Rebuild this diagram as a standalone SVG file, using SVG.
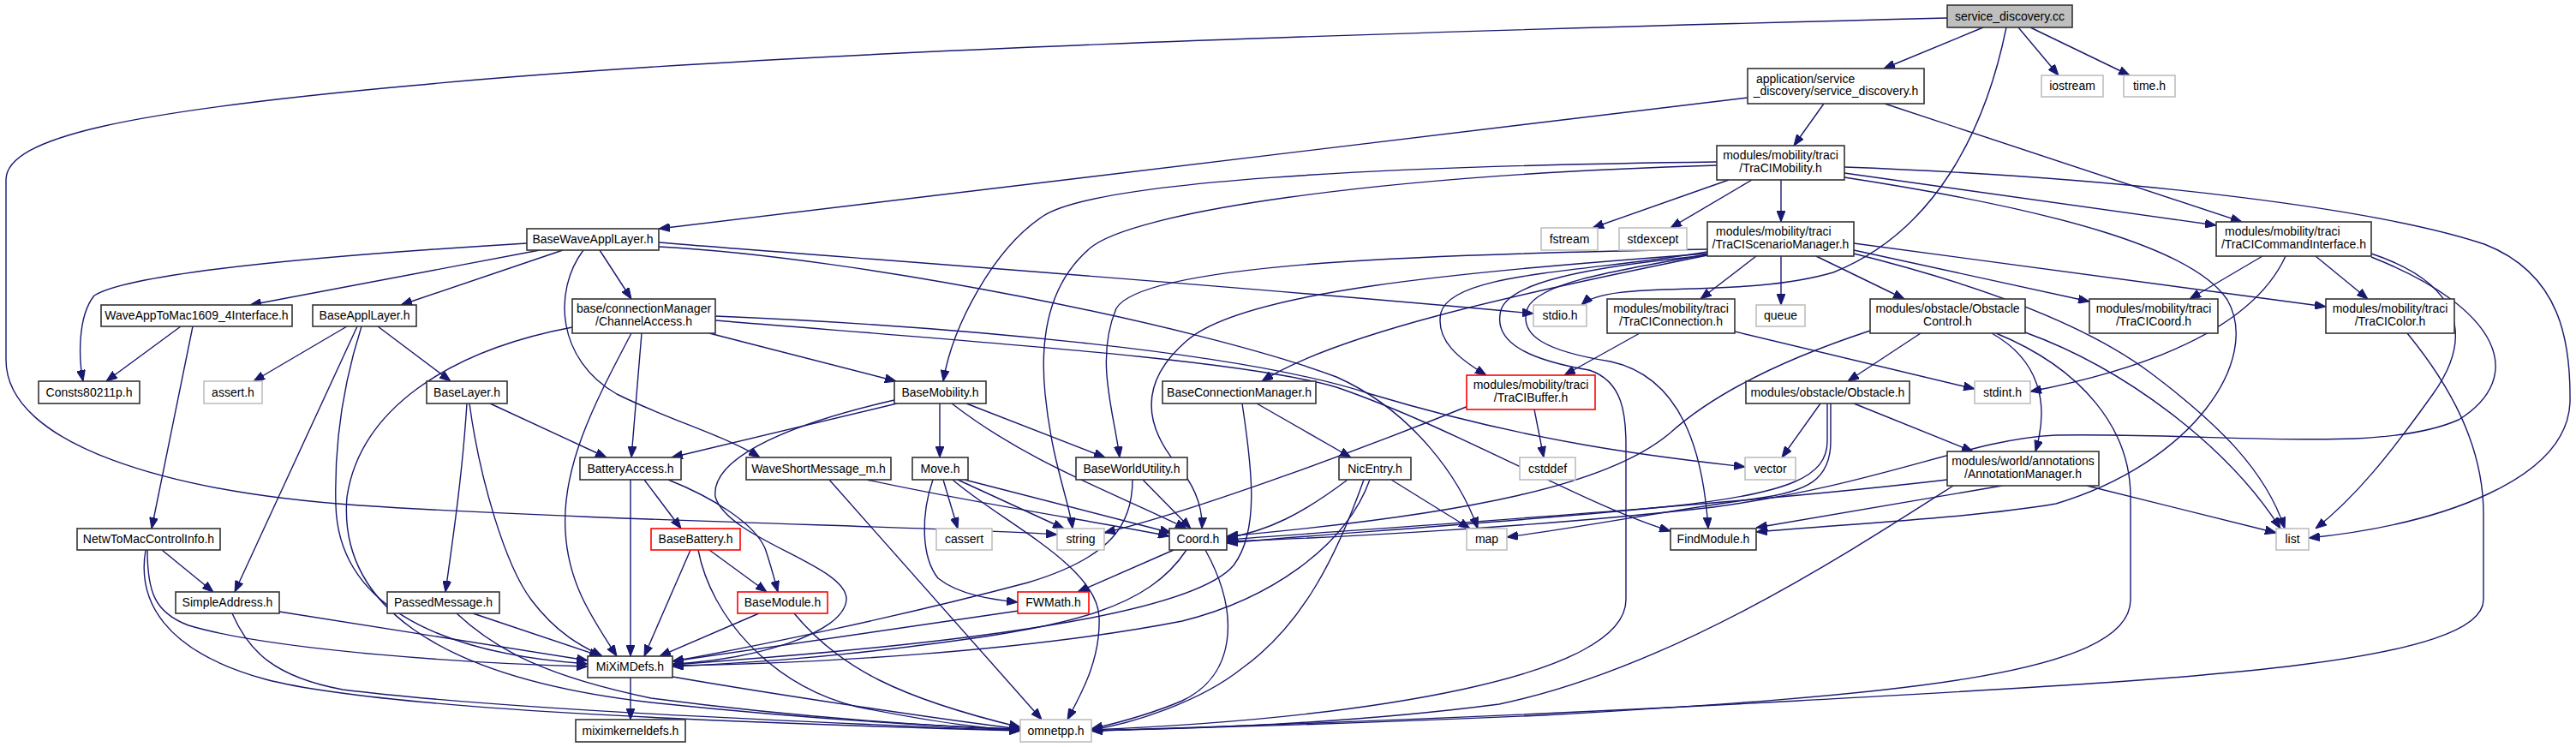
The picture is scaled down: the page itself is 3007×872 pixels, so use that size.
<svg xmlns="http://www.w3.org/2000/svg" width="3007" height="872" viewBox="0 0 3007 872">
<style>
#edges path{fill:none;stroke:#191970;stroke-width:1.4;marker-end:url(#a)}
.n rect{fill:#fff;stroke:#333;stroke-width:1.6}
.n.g rect{stroke:#bfbfbf}
.n.r rect{stroke:#ff0000}
.n.root rect{fill:#bfbfbf}
text{font-family:"Liberation Sans",Arial,Helvetica,sans-serif;font-size:14px;fill:#000}
.c{text-anchor:middle}
.l{text-anchor:start}
</style>
<defs>
<marker id="a" viewBox="0 0 13 10" refX="13" refY="5" markerWidth="13" markerHeight="10" orient="auto" markerUnits="userSpaceOnUse"><path d="M0,0 L13,5 L0,10 z" fill="#191970" stroke="#191970" stroke-width="1"/></marker>
</defs>
<rect width="3007" height="872" fill="#fff"/>
<g id="edges">
<path d="M2315,32 L2199,80"/>
<path d="M2356,32 L2403,88"/>
<path d="M2370,32 L2486,88"/>
<path d="M2342,32 C2318,150 2260,270 2140,318 C2030,350 1880,325 1846,356"/>
<path d="M2273,21 C1600,38 900,60 480,100 C150,130 7,160 7,210 L7,420 C7,520 200,575 420,590 C700,608 1100,615 1234,624"/>
<path d="M2040,114 L769,267"/>
<path d="M2129,121 L2094,170"/>
<path d="M2200,121 L2617,259"/>
<path d="M2018,210 L1859,266"/>
<path d="M2045,210 L1950,266"/>
<path d="M2079,210 L2079,259"/>
<path d="M2153,202 L2587,263"/>
<path d="M2004,189 C1600,194 1280,212 1218,252 C1160,290 1112,380 1101,445"/>
<path d="M2004,193 C1600,205 1320,248 1272,290 C1222,333 1214,400 1220,460 C1228,540 1248,585 1252,617"/>
<path d="M2153,195 C2500,208 2780,245 2900,285 C2990,320 3001,400 3000,470 C2996,560 2850,612 2695,628"/>
<path d="M2153,207 C2400,245 2560,290 2600,350 C2640,420 2560,540 2400,588 C2300,605 2150,612 2050,621"/>
<path d="M2050,299 L1985,349"/>
<path d="M2079,299 L2079,356"/>
<path d="M2120,299 L2223,349"/>
<path d="M2164,292 L2439,352"/>
<path d="M2164,284 L2715,358"/>
<path d="M2164,296 C2300,330 2430,375 2510,435 C2590,495 2645,550 2667,617"/>
<path d="M2364,388 C2480,430 2600,520 2662,617"/>
<path d="M1993,294 C1850,318 1695,318 1682,365 C1675,398 1705,420 1735,438"/>
<path d="M1993,298 C1760,345 1560,390 1473,445"/>
<path d="M1993,291 C1700,296 1335,305 1303,360 C1278,420 1300,480 1307,534"/>
<path d="M1993,296 C1700,318 1450,340 1385,398 C1325,450 1340,500 1372,540 C1398,570 1404,595 1403,617"/>
<path d="M1993,297 C1870,318 1795,332 1783,360 C1772,392 1805,410 1880,422 C1962,440 1988,525 1994,617"/>
<path d="M1993,298 C1850,312 1762,330 1752,362 C1742,400 1785,420 1855,432 C1895,445 1898,485 1898,520 L1898,700 C1898,790 1600,838 1274,852"/>
<path d="M1914,389 L1826,438"/>
<path d="M2025,387 L2305,454"/>
<path d="M1791,478 L1802,534"/>
<path d="M1714,474 C1600,520 1400,595 1289,622"/>
<path d="M2641,299 L2556,349"/>
<path d="M2703,299 L2764,349"/>
<path d="M2668,299 C2640,360 2560,420 2370,457"/>
<path d="M2768,296 C2870,330 2890,390 2840,460 C2790,530 2750,580 2703,617"/>
<path d="M2768,300 C2920,360 2950,440 2870,490 C2780,530 2600,505 2400,508 C2300,512 2200,565 2000,592 C1800,615 1550,628 1432,632"/>
<path d="M2242,389 L2157,445"/>
<path d="M2183,386 C2080,420 2000,460 1950,505 C1880,565 1720,600 1432,626"/>
<path d="M2325,389 C2380,420 2393,470 2376,527"/>
<path d="M2330,389 C2430,430 2487,500 2487,580 L2487,700 C2487,790 2200,812 1800,835 C1500,848 1350,851 1274,853"/>
<path d="M2125,471 L2080,534"/>
<path d="M2164,471 L2303,527"/>
<path d="M2137,471 L2137,515 C2137,560 2110,574 2050,582 C1940,597 1850,615 1759,627"/>
<path d="M2133,471 L2133,515 C2133,556 2090,576 1950,591 C1750,611 1520,625 1432,634"/>
<path d="M2337,567 L2050,616"/>
<path d="M2436,567 L2657,622"/>
<path d="M2273,560 C2000,592 1600,617 1432,630"/>
<path d="M2280,567 C2150,650 1950,780 1750,822 C1550,848 1350,851 1274,853"/>
<path d="M2810,389 C2860,450 2899,520 2899,600 L2899,700 C2899,780 2500,795 2100,818 C1700,840 1400,849 1274,853"/>
<path d="M615,284 C350,300 150,320 110,345 C90,370 92,420 97,445"/>
<path d="M630,292 L292,356"/>
<path d="M657,292 L468,356"/>
<path d="M700,292 L737,349"/>
<path d="M681,292 C645,340 650,420 720,460 C780,490 850,510 887,534"/>
<path d="M769,283 C950,298 1400,330 1790,366"/>
<path d="M769,288 C1000,300 1400,380 1560,440 C1650,480 1705,560 1725,617"/>
<path d="M211,381 L124,445"/>
<path d="M225,381 L177,617"/>
<path d="M405,381 L296,445"/>
<path d="M441,381 L526,445"/>
<path d="M417,381 L274,691"/>
<path d="M422,381 C400,450 390,520 392,590 C395,700 500,762 686,775"/>
<path d="M749,389 L737,534"/>
<path d="M828,389 L1046,445"/>
<path d="M737,389 C700,460 655,540 660,620 C663,680 690,720 720,766"/>
<path d="M668,382 C520,410 420,480 405,580 C395,700 500,790 760,820 C950,840 1100,848 1191,851"/>
<path d="M835,369 C1100,380 1450,410 1600,460 C1800,520 1950,535 2037,545"/>
<path d="M835,374 C1150,400 1450,420 1560,452 C1700,500 1850,590 1950,620"/>
<path d="M572,471 L708,534"/>
<path d="M545,471 C540,550 530,620 520,691"/>
<path d="M548,471 C560,560 590,660 620,700 C650,740 680,755 703,766"/>
<path d="M189,642 L249,691"/>
<path d="M172,642 C172,690 180,715 220,730 C320,760 560,775 686,778"/>
<path d="M170,642 C160,700 190,760 310,793 C450,830 900,845 1191,853"/>
<path d="M326,714 L686,771"/>
<path d="M271,716 C290,760 320,790 400,805 C600,830 1000,845 1191,853"/>
<path d="M552,716 L701,766"/>
<path d="M533,716 C580,760 640,790 760,815 C950,840 1100,848 1191,852"/>
<path d="M752,560 L795,617"/>
<path d="M780,560 C830,580 880,610 893,640 C900,660 905,680 908,691"/>
<path d="M736,560 L736,766"/>
<path d="M828,642 L895,691"/>
<path d="M806,642 L752,766"/>
<path d="M815,642 C830,720 900,800 1000,825 C1100,845 1150,850 1191,853"/>
<path d="M886,716 L770,766"/>
<path d="M927,716 C980,780 1050,815 1191,849"/>
<path d="M736,791 L736,840"/>
<path d="M785,790 C900,810 1100,840 1191,851"/>
<path d="M1101,560 L1118,617"/>
<path d="M1118,560 L1242,617"/>
<path d="M1126,560 L1367,622"/>
<path d="M1089,560 C1075,600 1075,650 1095,675 C1120,695 1160,700 1188,703"/>
<path d="M1112,560 C1170,610 1280,660 1283,720 C1285,770 1262,810 1246,840"/>
<path d="M1012,560 C1150,590 1300,612 1365,626"/>
<path d="M968,560 L1216,840"/>
<path d="M1047,471 L784,534"/>
<path d="M1044,467 C900,500 830,540 835,580 C850,630 990,660 988,700 C985,740 880,770 785,775"/>
<path d="M1097,471 L1097,534"/>
<path d="M1128,471 L1290,534"/>
<path d="M1111,471 C1200,540 1300,575 1385,617"/>
<path d="M1334,560 L1390,617"/>
<path d="M1322,560 C1322,610 1300,650 1200,680 C1050,720 880,755 785,772"/>
<path d="M1467,471 L1577,534"/>
<path d="M1450,471 C1462,550 1470,620 1440,660 C1380,730 1000,760 785,776"/>
<path d="M1573,560 C1520,600 1480,620 1432,628"/>
<path d="M1624,560 L1716,617"/>
<path d="M1599,560 C1570,640 1480,700 1380,725 C1200,760 950,775 785,777"/>
<path d="M1592,560 C1560,650 1520,730 1450,780 C1400,820 1320,845 1274,852"/>
<path d="M1370,642 L1258,691"/>
<path d="M1385,642 C1340,710 1250,730 1100,750 C950,770 850,775 785,778"/>
<path d="M1407,642 C1450,720 1440,790 1380,818 C1340,835 1300,845 1274,851"/>
<path d="M1189,713 L785,772"/>
</g>
<g id="n_cc" class="n root"><rect x="2273" y="6" width="146" height="26"/><text class="c" x="2346" y="23.8">service_discovery.cc</text></g>
<g id="n_iostream" class="n g"><rect x="2383" y="88" width="72" height="25"/><text class="c" x="2419" y="105.3">iostream</text></g>
<g id="n_time" class="n g"><rect x="2479" y="88" width="60" height="25"/><text class="c" x="2509" y="105.3">time.h</text></g>
<g id="n_app" class="n"><rect x="2040" y="80" width="206" height="41"/><text class="l" x="2050" y="96.5">application/service</text><text class="c" x="2143" y="111.3">_discovery/service_discovery.h</text></g>
<g id="n_mob" class="n"><rect x="2004" y="170" width="149" height="40"/><text class="c" x="2078.5" y="186">modules/mobility/traci</text><text class="c" x="2078.5" y="200.8">/TraCIMobility.h</text></g>
<g id="n_bwal" class="n"><rect x="615" y="267" width="154" height="25"/><text class="c" x="692" y="284.3">BaseWaveApplLayer.h</text></g>
<g id="n_fstream" class="n g"><rect x="1799" y="266" width="66" height="26"/><text class="c" x="1832" y="283.8">fstream</text></g>
<g id="n_stdexcept" class="n g"><rect x="1890" y="266" width="79" height="26"/><text class="c" x="1929.5" y="283.8">stdexcept</text></g>
<g id="n_scen" class="n"><rect x="1993" y="259" width="171" height="40"/><text class="l" x="2003" y="275">modules/mobility/traci</text><text class="c" x="2078.5" y="289.8">/TraCIScenarioManager.h</text></g>
<g id="n_cmd" class="n"><rect x="2587" y="259" width="181" height="40"/><text class="l" x="2597" y="275">modules/mobility/traci</text><text class="c" x="2677.5" y="289.8">/TraCICommandInterface.h</text></g>
<g id="n_wa2m" class="n"><rect x="118" y="356" width="223" height="25"/><text class="c" x="229.5" y="373.3">WaveAppToMac1609_4Interface.h</text></g>
<g id="n_bapl" class="n"><rect x="365" y="356" width="121" height="25"/><text class="c" x="425.5" y="373.3">BaseApplLayer.h</text></g>
<g id="n_chan" class="n"><rect x="668" y="349" width="167" height="40"/><text class="c" x="751.5" y="365">base/connectionManager</text><text class="c" x="751.5" y="379.8">/ChannelAccess.h</text></g>
<g id="n_stdio" class="n g"><rect x="1790" y="356" width="62" height="25"/><text class="c" x="1821" y="373.3">stdio.h</text></g>
<g id="n_conn" class="n"><rect x="1876" y="349" width="149" height="40"/><text class="c" x="1950.5" y="365">modules/mobility/traci</text><text class="c" x="1950.5" y="379.8">/TraCIConnection.h</text></g>
<g id="n_queue" class="n g"><rect x="2050" y="356" width="57" height="25"/><text class="c" x="2078.5" y="373.3">queue</text></g>
<g id="n_oc" class="n"><rect x="2183" y="349" width="181" height="40"/><text class="c" x="2273.5" y="365">modules/obstacle/Obstacle</text><text class="c" x="2273.5" y="379.8">Control.h</text></g>
<g id="n_tcoord" class="n"><rect x="2439" y="349" width="150" height="40"/><text class="c" x="2514" y="365">modules/mobility/traci</text><text class="c" x="2514" y="379.8">/TraCICoord.h</text></g>
<g id="n_color" class="n"><rect x="2715" y="349" width="150" height="40"/><text class="c" x="2790" y="365">modules/mobility/traci</text><text class="c" x="2790" y="379.8">/TraCIColor.h</text></g>
<g id="n_consts" class="n"><rect x="45" y="445" width="118" height="26"/><text class="c" x="104" y="462.8">Consts80211p.h</text></g>
<g id="n_assert" class="n g"><rect x="238" y="445" width="68" height="26"/><text class="c" x="272" y="462.8">assert.h</text></g>
<g id="n_blayer" class="n"><rect x="498" y="445" width="94" height="26"/><text class="c" x="545" y="462.8">BaseLayer.h</text></g>
<g id="n_bmob" class="n"><rect x="1044" y="445" width="107" height="26"/><text class="c" x="1097.5" y="462.8">BaseMobility.h</text></g>
<g id="n_bcm" class="n"><rect x="1357" y="445" width="179" height="26"/><text class="c" x="1446.5" y="462.8">BaseConnectionManager.h</text></g>
<g id="n_buf" class="n r"><rect x="1712" y="438" width="150" height="40"/><text class="c" x="1787" y="454">modules/mobility/traci</text><text class="c" x="1787" y="468.8">/TraCIBuffer.h</text></g>
<g id="n_obst" class="n"><rect x="2038" y="445" width="191" height="26"/><text class="c" x="2133.5" y="462.8">modules/obstacle/Obstacle.h</text></g>
<g id="n_stdint" class="n g"><rect x="2305" y="445" width="65" height="26"/><text class="c" x="2337.5" y="462.8">stdint.h</text></g>
<g id="n_batt" class="n"><rect x="677" y="534" width="118" height="26"/><text class="c" x="736" y="551.8">BatteryAccess.h</text></g>
<g id="n_wsm" class="n"><rect x="871" y="534" width="169" height="26"/><text class="c" x="955.5" y="551.8">WaveShortMessage_m.h</text></g>
<g id="n_move" class="n"><rect x="1065" y="534" width="65" height="26"/><text class="c" x="1097.5" y="551.8">Move.h</text></g>
<g id="n_bwu" class="n"><rect x="1256" y="534" width="130" height="26"/><text class="c" x="1321" y="551.8">BaseWorldUtility.h</text></g>
<g id="n_nic" class="n"><rect x="1563" y="534" width="84" height="26"/><text class="c" x="1605" y="551.8">NicEntry.h</text></g>
<g id="n_cstddef" class="n g"><rect x="1774" y="534" width="65" height="26"/><text class="c" x="1806.5" y="551.8">cstddef</text></g>
<g id="n_vector" class="n g"><rect x="2037" y="534" width="59" height="26"/><text class="c" x="2066.5" y="551.8">vector</text></g>
<g id="n_annot" class="n"><rect x="2273" y="527" width="177" height="40"/><text class="c" x="2361.5" y="543">modules/world/annotations</text><text class="c" x="2361.5" y="557.8">/AnnotationManager.h</text></g>
<g id="n_netw" class="n"><rect x="90" y="617" width="167" height="25"/><text class="c" x="173.5" y="634.3">NetwToMacControlInfo.h</text></g>
<g id="n_bbatt" class="n r"><rect x="760" y="617" width="104" height="25"/><text class="c" x="812" y="634.3">BaseBattery.h</text></g>
<g id="n_cassert" class="n g"><rect x="1093" y="617" width="65" height="25"/><text class="c" x="1125.5" y="634.3">cassert</text></g>
<g id="n_string" class="n g"><rect x="1234" y="617" width="55" height="25"/><text class="c" x="1261.5" y="634.3">string</text></g>
<g id="n_coord" class="n"><rect x="1365" y="617" width="67" height="25"/><text class="c" x="1398.5" y="634.3">Coord.h</text></g>
<g id="n_map" class="n g"><rect x="1712" y="617" width="47" height="25"/><text class="c" x="1735.5" y="634.3">map</text></g>
<g id="n_find" class="n"><rect x="1950" y="617" width="100" height="25"/><text class="c" x="2000" y="634.3">FindModule.h</text></g>
<g id="n_list" class="n g"><rect x="2657" y="617" width="38" height="25"/><text class="c" x="2676" y="634.3">list</text></g>
<g id="n_simple" class="n"><rect x="205" y="691" width="121" height="25"/><text class="c" x="265.5" y="708.3">SimpleAddress.h</text></g>
<g id="n_passed" class="n"><rect x="452" y="691" width="131" height="25"/><text class="c" x="517.5" y="708.3">PassedMessage.h</text></g>
<g id="n_bmod" class="n r"><rect x="861" y="691" width="105" height="25"/><text class="c" x="913.5" y="708.3">BaseModule.h</text></g>
<g id="n_fwmath" class="n r"><rect x="1188" y="691" width="83" height="25"/><text class="c" x="1229.5" y="708.3">FWMath.h</text></g>
<g id="n_mixim" class="n"><rect x="686" y="766" width="99" height="25"/><text class="c" x="735.5" y="783.3">MiXiMDefs.h</text></g>
<g id="n_kernel" class="n"><rect x="672" y="840" width="128" height="26"/><text class="c" x="736" y="857.8">miximkerneldefs.h</text></g>
<g id="n_omnet" class="n g"><rect x="1191" y="840" width="83" height="26"/><text class="c" x="1232.5" y="857.8">omnetpp.h</text></g>
</svg>
